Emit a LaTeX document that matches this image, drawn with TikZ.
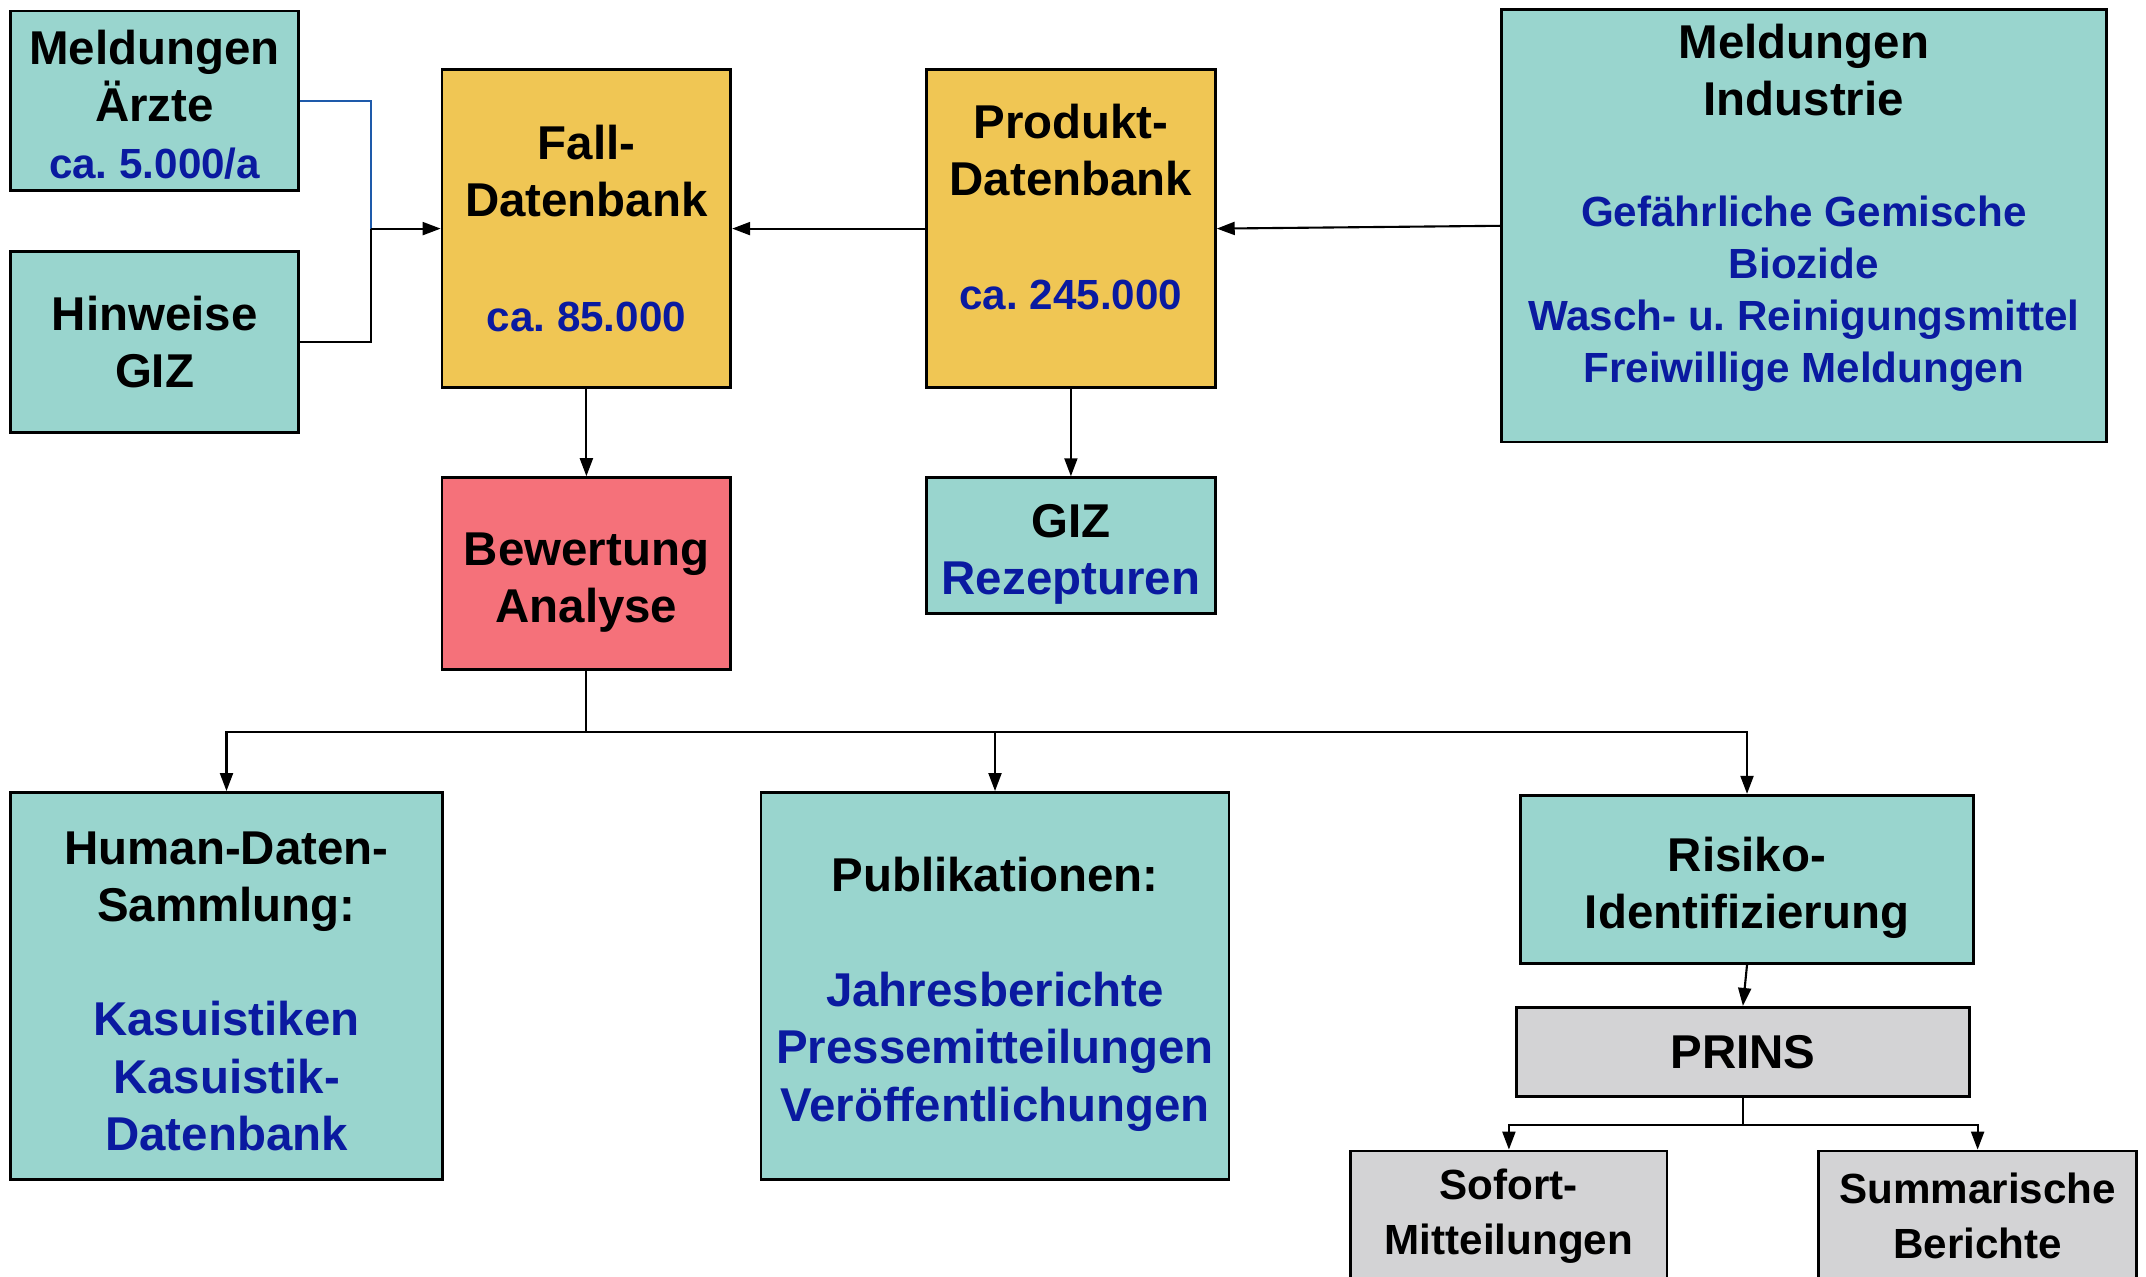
\documentclass[tikz,border=0pt]{standalone}
\usepackage{fontspec}
\setmainfont{Liberation Sans}
\usetikzlibrary{arrows.meta}
\frenchspacing

\definecolor{tealbox}{RGB}{153,213,206}
\definecolor{goldbox}{RGB}{240,198,84}
\definecolor{rosebox}{RGB}{245,113,122}
\definecolor{greybox}{RGB}{211,211,213}
\definecolor{bluetxt}{RGB}{10,26,160}
\definecolor{linkblue}{RGB}{30,90,170}

\newcommand{\bl}[1]{{\color{bluetxt}#1}}
\newcommand{\bls}[1]{{\color{bluetxt}\fontsize{12}{14.75}\selectfont #1}}
\newcommand{\blk}[1]{{\color{black}\fontsize{13.5}{16.3}\selectfont #1}}
% invisible struts to move a text block inside its box
\newcommand{\tall}[1]{\rule{0pt}{#1}}
\newcommand{\deep}[1]{\rule[-#1]{0pt}{#1}}

\begin{document}
\begin{tikzpicture}[auto,
    box/.style ={draw, line width=0.8pt, align=center, inner sep=0pt,
      font=\fontsize{13.5}{16.3}\selectfont\bfseries},
    tealb/.style ={box, fill=tealbox},
    goldb/.style ={box, fill=goldbox},
    roseb/.style ={box, fill=rosebox},
    greyb/.style ={box, fill=greybox},
    arr/.style ={line width=0.6pt, -{Triangle[length=1.8mm, width=1.3mm]}}]
   \clip (0,0) rectangle (21.46,-12.76);
   \node[tealb, minimum width=2.874cm, minimum height=1.793cm] (aerzte) at (1.546,-1.006) {\tall{12.2pt}Meldungen\\ Ärzte\\ \bls{ca. 5.000/a}};
   \node[tealb, minimum width=2.874cm, minimum height=1.807cm] (hinweise) at (1.546,-3.421) {Hinweise\\ GIZ};
   \node[goldb, minimum width=2.887cm, minimum height=3.175cm] (fall) at (5.864,-2.286) {Fall-\\ Datenbank\\[16.3pt] \bls{ca. 85.000}};
   \node[goldb, minimum width=2.888cm, minimum height=3.175cm] (produkt) at (10.709,-2.286) {Produkt-\\ Datenbank\\[16.3pt] \bls{ca. 245.000}\deep{12.4pt}};
   \node[tealb, minimum width=6.049cm, minimum height=4.325cm] (industrie) at (18.038,-2.258) {};
   \node[align=center, font=\fontsize{12}{14.75}\selectfont\bfseries, text=bluetxt] (industrieText) at (18.038,-2.075)
     {\blk{Meldungen}\\[1.5pt] \blk{Industrie}\\[17pt] Gefährliche Gemische\\ Biozide\\ Wasch- u. Reinigungsmittel\\ Freiwillige Meldungen};
   \node[roseb, minimum width=2.887cm, minimum height=1.916cm] (bewertung) at (5.864,-5.734) {\tall{14.5pt}Bewertung\\ Analyse};
   \node[tealb, minimum width=2.888cm, minimum height=1.355cm] (giz) at (10.709,-5.454) {\tall{14.5pt}GIZ\\ \bl{Rezepturen}};
   \node[tealb, minimum width=4.312cm, minimum height=3.873cm] (human) at (2.265,-9.861) {\tall{12.2pt}Human-Daten-\\ Sammlung:\\[16.3pt] \bl{Kasuistiken}\\ \bl{Kasuistik-}\\ \bl{Datenbank}};
   \node[tealb, minimum width=4.681cm, minimum height=3.873cm] (publ) at (9.950,-9.861) {\tall{14.5pt}Publikationen:\\[16.3pt] \bl{Jahresberichte}\\ \bl{Pressemitteilungen}\\ \bl{Veröffentlichungen}};
   \node[tealb, minimum width=4.530cm, minimum height=1.683cm] (risiko) at (17.470,-8.794) {\tall{14.5pt}Risiko-\\ Identifizierung};
   \node[greyb, minimum width=4.530cm, minimum height=0.889cm] (prins) at (17.429,-10.518) {PRINS};
   \node[greyb, minimum width=3.162cm, minimum height=1.3cm, font=\fontsize{12}{15.5}\selectfont\bfseries] (sofort) at (15.089,-12.16) {Sofort-\\ Mitteilungen};
   \node[greyb, minimum width=3.175cm, minimum height=1.3cm, font=\fontsize{12}{15.5}\selectfont\bfseries] (summ) at (19.776,-12.16) {Summarische\\ Berichte};
   \coordinate (merge) at (3.709,-2.286);
   \coordinate (split) at (5.864,-7.322);
   \coordinate (prinsSplit) at (17.429,-11.25);
   \draw[linkblue, line width=0.6pt] (aerzte.east) -| (merge);
   \draw[line width=0.6pt] (hinweise.east) -| (merge);
   \draw[arr] (merge) -- (fall.west);
   \draw[arr] (produkt.west) -- (fall.east);
   \draw[arr] (industrie.west) -- (produkt.east);
   \draw[arr] (fall.south) -- (bewertung.north);
   \draw[arr] (produkt.south) -- (giz.north);
   \draw[line width=0.6pt] (bewertung.south) -- (split);
   \draw[arr] (split) -| (human.north);
   \draw[arr] (split) -| (publ.north);
   \draw[arr] (split) -| (risiko.north);
   \draw[arr] (risiko.south) -- (prins.north);
   \draw[line width=0.6pt] (prins.south) -- (prinsSplit);
   \draw[arr] (prinsSplit) -| (sofort.north);
   \draw[arr] (prinsSplit) -| (summ.north);
\end{tikzpicture}
\end{document}
